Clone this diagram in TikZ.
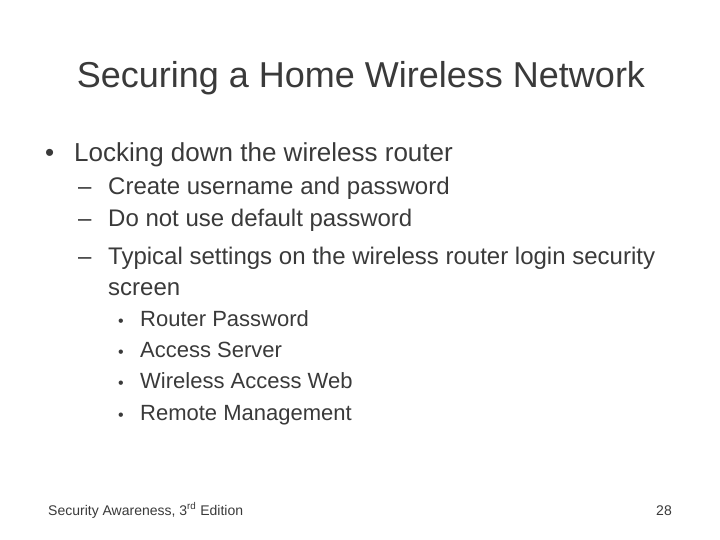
\documentclass[tikz,border=0pt]{standalone}
\usepackage{fontspec}
\setmainfont{Liberation Sans}
\definecolor{tx}{HTML}{3A3A3A}
\begin{document}
\begin{tikzpicture}[x=1bp,y=-1bp,
  t/.style={anchor=base west,inner sep=0,text=tx},
  ttl/.style={anchor=base,inner sep=0,text=tx,font=\fontsize{36bp}{40bp}\selectfont},
  l1/.style={t,font=\fontsize{26bp}{30bp}\selectfont},
  l2/.style={t,font=\fontsize{24bp}{28bp}\selectfont},
  l3/.style={t,font=\fontsize{22bp}{26bp}\selectfont},
  bl3/.style={t,font=\fontsize{16bp}{20bp}\selectfont},
  ft/.style={inner sep=0,text=tx,font=\fontsize{14bp}{16bp}\selectfont}]
\useasboundingbox[fill=white] (0,0) rectangle (720,540);
\node[ttl] (title) at (361,88) {Securing a Home Wireless Network};
\node[l1] (b1) at (45,162) {•};
\node[l1] (a1) at (74,162) {Locking down the wireless router};
\node[l2] (d1) at (78,195) {–};
\node[l2] (s1) at (108,195) {Create username and password};
\node[l2] (d2) at (78,227) {–};
\node[l2] (s2) at (108,227) {Do not use default password};
\node[l2] (d3) at (78,265) {–};
\node[l2] (s3) at (108,265) {Typical settings on the wireless router login security};
\node[l2] (s3b) at (108,295) {screen};
\node[bl3] (e1) at (118,326) {•};
\node[l3] (r1) at (140,326) {Router Password};
\node[bl3] (e2) at (118,357) {•};
\node[l3] (r2) at (140,357) {Access Server};
\node[bl3] (e3) at (118,388) {•};
\node[l3] (r3) at (140,388) {Wireless Access Web};
\node[bl3] (e4) at (118,420) {•};
\node[l3] (r4) at (140,420) {Remote Management};
\node[ft,anchor=base west] (foot) at (48,515) {Security Awareness, 3\textsuperscript{rd} Edition};
\node[ft,anchor=base east] (pg) at (672,515) {28};
\end{tikzpicture}
\end{document}
